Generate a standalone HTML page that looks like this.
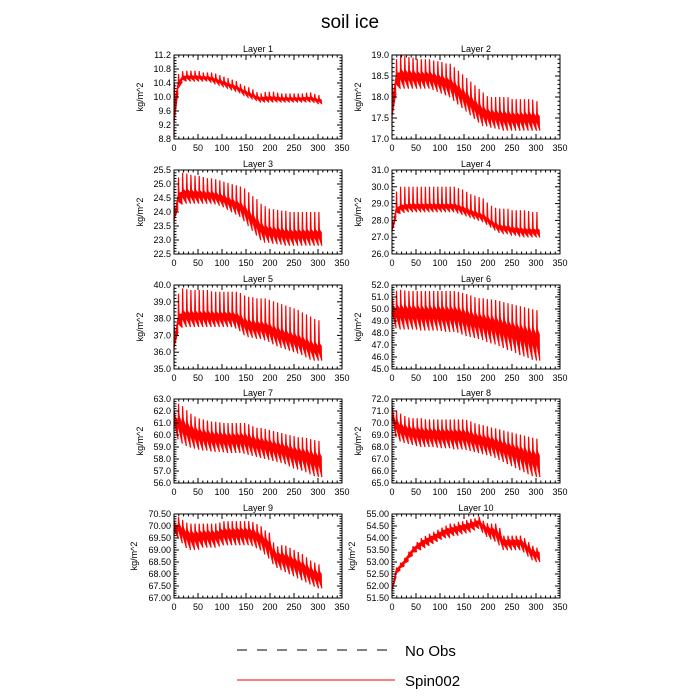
<!DOCTYPE html>
<html><head><meta charset="utf-8"><style>
html,body{margin:0;padding:0;background:#fff}
svg{display:block;font-family:"Liberation Sans",sans-serif}
</style></head><body>
<svg id="chart" width="700" height="700" viewBox="0 0 700 700" xmlns="http://www.w3.org/2000/svg">
<text x="350" y="28" text-anchor="middle" font-size="19">soil ice</text>
<g id="panels"></g>
<g>
<line x1="237" y1="650" x2="395" y2="650" stroke="#000" stroke-width="1" stroke-dasharray="10,10"/>
<text x="405" y="656" font-size="15">No Obs</text>
<line x1="237" y1="680" x2="395" y2="680" stroke="#f00" stroke-width="1"/>
<text x="405" y="686" font-size="15">Spin002</text>
</g>
</svg>
<script>
const xTicks=[0,50,100,150,200,250,300,350];
const sampleX=[0,10,20,30,40,50,60,70,80,90,100,110,120,130,140,150,160,170,180,190,200,210,220,230,240,250,260,270,280,290,300];
const L1hi=[10.4,10.7,10.75,10.75,10.75,10.75,10.7,10.7,10.7,10.65,10.6,10.55,10.5,10.45,10.35,10.3,10.25,10.15,10.1,10.15,10.15,10.15,10.1,10.1,10.1,10.1,10.1,10.1,10.15,10.1,10.05];
const L1lo=[8.9,10.3,10.45,10.45,10.45,10.45,10.45,10.45,10.4,10.35,10.3,10.25,10.2,10.15,10.1,10.0,9.95,9.9,9.85,9.85,9.85,9.85,9.85,9.85,9.85,9.85,9.85,9.85,9.85,9.85,9.8];
const L2hi=[18.3,19.0,19.0,18.95,18.95,18.9,18.9,18.9,18.9,18.85,18.85,18.8,18.8,18.7,18.6,18.5,18.4,18.3,18.2,18.1,18.0,18.0,18.0,18.0,18.0,17.95,17.95,17.95,17.95,17.95,17.9];
const L2lo=[17.3,18.2,18.2,18.2,18.2,18.2,18.2,18.2,18.2,18.15,18.1,18.05,18.0,17.9,17.8,17.7,17.6,17.5,17.4,17.3,17.3,17.25,17.25,17.2,17.2,17.2,17.2,17.2,17.2,17.2,17.2];
const L3hi=[24.2,25.4,25.4,25.35,25.3,25.3,25.25,25.2,25.2,25.15,25.1,25.05,25.0,24.95,24.9,24.8,24.6,24.5,24.3,24.2,24.1,24.1,24.05,24.05,24.0,24.0,24.0,24.0,24.0,24.0,24.0];
const L3lo=[23.6,24.2,24.3,24.3,24.3,24.3,24.3,24.3,24.3,24.25,24.2,24.1,24.0,23.9,23.8,23.6,23.4,23.2,23.0,22.9,22.9,22.85,22.85,22.8,22.8,22.8,22.8,22.8,22.8,22.8,22.8];
const L4hi=[28.0,30.0,30.0,30.0,30.0,30.0,30.0,30.0,30.0,30.0,30.0,30.0,30.0,30.0,29.9,29.8,29.6,29.5,29.4,29.3,29.0,28.8,28.7,28.7,28.7,28.6,28.6,28.6,28.6,28.5,28.5];
const L4lo=[27.3,28.4,28.4,28.5,28.5,28.5,28.5,28.5,28.5,28.5,28.5,28.5,28.5,28.5,28.4,28.3,28.2,28.1,28.0,27.9,27.7,27.5,27.3,27.2,27.2,27.1,27.1,27.0,27.0,27.0,27.0];
const L5hi=[37.5,39.8,39.8,39.7,39.7,39.7,39.7,39.7,39.6,39.6,39.6,39.6,39.6,39.6,39.5,39.3,39.3,39.2,39.2,39.2,39.1,39.0,38.9,38.8,38.7,38.6,38.5,38.3,38.2,38.0,37.9];
const L5lo=[36.0,37.4,37.5,37.5,37.5,37.5,37.5,37.5,37.5,37.5,37.5,37.5,37.5,37.4,37.2,36.9,36.9,36.8,36.8,36.7,36.6,36.4,36.3,36.2,36.1,36.0,35.9,35.8,35.6,35.5,35.5];
const L6hi=[51.0,51.6,51.6,51.5,51.5,51.5,51.5,51.5,51.5,51.5,51.5,51.5,51.5,51.5,51.4,51.3,51.2,51.0,50.9,50.9,50.8,50.8,50.7,50.6,50.5,50.4,50.3,50.2,50.1,50.0,49.9];
const L6lo=[49.0,48.3,48.3,48.3,48.3,48.3,48.2,48.2,48.2,48.2,48.2,48.1,48.1,48.1,48.0,47.8,47.7,47.6,47.5,47.4,47.2,47.1,47.0,46.8,46.6,46.5,46.3,46.1,46.0,45.8,45.7];
const L7hi=[62.0,62.7,62.3,61.9,61.6,61.4,61.3,61.2,61.1,61.1,61.0,61.0,61.0,61.0,61.0,61.0,60.8,60.6,60.6,60.5,60.4,60.3,60.2,60.1,60.0,59.9,59.8,59.8,59.7,59.6,59.5];
const L7lo=[60.5,59.5,59.2,59.0,58.9,58.8,58.7,58.7,58.6,58.6,58.6,58.5,58.5,58.5,58.5,58.4,58.3,58.2,58.1,58.0,57.9,57.8,57.7,57.6,57.4,57.2,57.1,57.0,56.8,56.6,56.5];
const L8hi=[71.3,71.0,70.7,70.5,70.4,70.4,70.4,70.3,70.3,70.3,70.3,70.3,70.3,70.3,70.3,70.3,70.2,70.0,69.9,69.8,69.7,69.6,69.5,69.4,69.3,69.2,69.1,69.0,68.9,68.8,68.7];
const L8lo=[70.0,68.6,68.4,68.3,68.2,68.1,68.0,68.0,68.0,68.0,67.9,67.9,67.9,67.8,67.8,67.8,67.7,67.6,67.5,67.4,67.3,67.2,67.0,66.8,66.6,66.4,66.2,66.0,65.8,65.6,65.5];
const L9hi=[70.2,70.4,70.2,70.1,70.1,70.1,70.1,70.1,70.1,70.1,70.2,70.2,70.2,70.2,70.2,70.2,70.2,70.1,70.0,69.8,69.7,69.1,69.2,69.2,69.1,69.0,68.9,68.8,68.6,68.5,68.4];
const L9lo=[69.6,69.5,69.2,69.0,69.0,69.0,69.1,69.1,69.1,69.1,69.2,69.2,69.2,69.2,69.2,69.2,69.2,69.1,69.0,68.8,68.6,68.3,68.2,68.1,68.0,67.9,67.8,67.7,67.6,67.5,67.4];
const L10hi=[52.0,52.9,53.0,53.3,53.6,53.8,54.0,54.1,54.2,54.3,54.4,54.5,54.6,54.6,54.7,54.7,54.8,54.8,54.9,54.7,54.6,54.6,54.6,54.1,54.1,54.1,54.1,54.1,53.9,53.7,53.6];
const L10lo=[51.8,52.5,52.7,52.9,53.2,53.4,53.5,53.6,53.7,53.8,53.9,54.0,54.0,54.1,54.1,54.2,54.2,54.3,54.4,54.2,54.0,53.9,53.8,53.5,53.5,53.5,53.5,53.5,53.3,53.1,53.0];
const bandFrac=[0.6,0.6,0.5,0.35,0.45,0.65,0.7,0.7,0.75,0.8];
const yMin=[8.8,17.0,22.5,26.0,35.0,45.0,56.0,65.0,67.0,51.5];
const yMax=[11.2,19.0,25.5,31.0,40.0,52.0,63.0,72.0,70.5,55.0];
const yStep=[0.4,0.5,0.5,1,1,1,1,1,0.5,0.5];
const yDec=[1,1,1,1,1,1,1,1,2,2];
const hiSeries=[L1hi,L2hi,L3hi,L4hi,L5hi,L6hi,L7hi,L8hi,L9hi,L10hi];
const loSeries=[L1lo,L2lo,L3lo,L4lo,L5lo,L6lo,L7lo,L8lo,L9lo,L10lo];
const cyclePeriod=8.6, xEnd=308;

const NS="http://www.w3.org/2000/svg";
const root=document.getElementById('panels');
function mk(tag,attrs,parent){const e=document.createElementNS(NS,tag);for(const k in attrs)e.setAttribute(k,attrs[k]);parent.appendChild(e);return e;}
function env(arr,x){const i=Math.min(Math.floor(x/10),arr.length-1);const j=Math.min(i+1,arr.length-1);const f=Math.min(1,(x-sampleX[i])/10);return arr[i]+(arr[j]-arr[i])*f;}
const W=168,H=84,colX=[174,392],rowY=[55,170,285,399,514];
for(let p=0;p<10;p++){
  const px=colX[p%2],py=rowY[Math.floor(p/2)];
  const g=mk('g',{},root);
  
  
  const xs=v=>px+v/350*W;
  const ys=v=>py+H-(v-yMin[p])/(yMax[p]-yMin[p])*H;
  const t=mk('text',{x:px+W/2,y:py-3,'text-anchor':'middle','font-size':9},g);
  t.textContent='Layer '+(p+1);
  
  
  const hi=hiSeries[p],lo=loSeries[p];
  let band='',spikes='';
  spikes+='M'+xs(0).toFixed(1)+','+ys(lo[0]).toFixed(1)+'L'+xs(0.5).toFixed(1)+','+ys(hi[0]).toFixed(1);
  for(let x0=0;x0<xEnd;x0+=cyclePeriod){
    const x1=Math.min(x0+cyclePeriod,xEnd);
    const h=env(hi,x0),l0=env(lo,x0),l1=env(lo,x1);
    const m0=l0+bandFrac[p]*(h-l0),m1=l1+bandFrac[p]*(env(hi,x1)-l1);
    const mEnd=m1-(m1-l1)*0.2;
    const bStart=l0+(m0-l0)*0.45;
    spikes+='M'+xs(x0).toFixed(1)+','+ys(bStart).toFixed(1)+'L'+xs(x0+0.8).toFixed(1)+','+ys(h).toFixed(1)+'L'+xs(x0+1.8).toFixed(1)+','+ys(m0).toFixed(1)+'L'+xs(x1).toFixed(1)+','+ys(l1).toFixed(1);
    band+='M'+xs(x0+0.8).toFixed(1)+','+ys(m0).toFixed(1)+'L'+xs(x1-0.8).toFixed(1)+','+ys(mEnd).toFixed(1)+'L'+xs(x1-0.3).toFixed(1)+','+ys(l1).toFixed(1)+'L'+xs(x0+0.8).toFixed(1)+','+ys(bStart).toFixed(1)+'Z';
  }
  const b=mk('path',{d:band,fill:'#f00',stroke:'#f00','stroke-width':0.6},g);
  
  
  const s=mk('path',{d:spikes,fill:'none',stroke:'#f00','stroke-width':1.2},g);
  
  
  const fr=mk('rect',{x:px,y:py,width:W,height:H,fill:'none',stroke:'#000','stroke-width':1},g);
  
  
  for(let k=0;k<xTicks.length;k++){
    const x=xs(xTicks[k]);
    mk('line',{x1:x,y1:py+H,x2:x,y2:py+H-5,stroke:'#000'},g);
    mk('line',{x1:x,y1:py,x2:x,y2:py+5,stroke:'#000'},g);
    const tl=mk('text',{x:x,y:py+H+12,'text-anchor':'middle','font-size':9},g);
    tl.textContent=xTicks[k];
    
    
  }
  for(let v=10;v<350;v+=10){if(v%50==0)continue;const x=xs(v);
    mk('line',{x1:x,y1:py+H,x2:x,y2:py+H-2.5,stroke:'#000'},g);
    mk('line',{x1:x,y1:py,x2:x,y2:py+2.5,stroke:'#000'},g);}
  const n=Math.round((yMax[p]-yMin[p])/yStep[p]);
  for(let k=0;k<=n;k++){
    const v=yMin[p]+k*yStep[p],y=ys(v);
    mk('line',{x1:px,y1:y,x2:px+5,y2:y,stroke:'#000'},g);
    mk('line',{x1:px+W,y1:y,x2:px+W-5,y2:y,stroke:'#000'},g);
    const tl=mk('text',{x:px-3,y:y+3,'text-anchor':'end','font-size':9},g);
    tl.textContent=v.toFixed(yDec[p]);
    
    
    if(k<n){for(let m=1;m<5;m++){const ym=ys(v+m*yStep[p]/5);
      mk('line',{x1:px,y1:ym,x2:px+2.5,y2:ym,stroke:'#000'},g);
      mk('line',{x1:px+W,y1:ym,x2:px+W-2.5,y2:ym,stroke:'#000'},g);}}
  }
  const lx=px-(yDec[p]==2?37:31);
  const yl=mk('text',{x:lx,y:py+H/2,'text-anchor':'middle','font-size':9,transform:'rotate(-90 '+lx+' '+(py+H/2)+')'},g);
  yl.textContent='kg/m^2';
  
  
}
</script>
</body></html>
